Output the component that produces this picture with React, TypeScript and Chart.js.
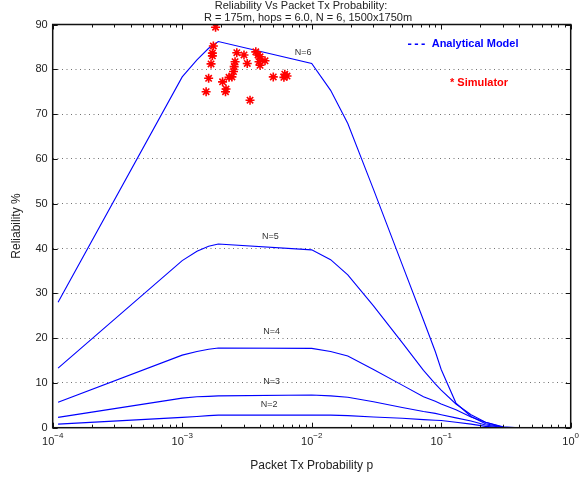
import React, { useEffect, useRef } from "react";
import { Chart, registerables } from "chart.js";
Chart.register(...registerables);

// Packet Tx probability grid (x) and analytical reliability (%) per N
const pGrid = [1.1e-4, 1e-3, 1.3e-3, 1.6e-3, 1.9e-3, 1e-2, 1.4e-2, 1.9e-2, 0.03, 0.05, 0.073, 0.09, 0.1, 0.13, 0.17, 0.22, 0.3, 0.4, 0.6, 1.0];
const relN6 = [28.0, 78.3, 82.1, 84.7, 86.2, 81.3, 75.3, 67.9, 53.2, 36.4, 24.0, 17.0, 13.0, 5.5, 2.5, 0.9, 0.1, 0, 0, 0];
const relN5 = [13.3, 37.3, 39.4, 40.5, 41.0, 39.7, 37.5, 34.1, 27.2, 19.0, 12.8, 9.8, 8.4, 5.3, 2.9, 1.2, 0.1, 0, 0, 0];
const relN4 = [5.7, 16.2, 17.0, 17.5, 17.8, 17.7, 17.0, 16.0, 13.0, 9.5, 6.9, 5.9, 5.3, 4.0, 2.4, 1.2, 0.2, 0, 0, 0];
const relN3 = [2.3, 6.6, 6.9, 7.0, 7.1, 7.3, 7.1, 6.8, 5.8, 4.5, 3.6, 3.2, 2.9, 2.2, 1.5, 0.6, 0.05, 0, 0, 0];
const relN2 = [0.8, 2.3, 2.5, 2.7, 2.8, 2.8, 2.8, 2.7, 2.4, 2.1, 1.8, 1.65, 1.6, 1.2, 0.8, 0.3, 0, 0, 0, 0];

// Simulator points
const simP = [1.81e-3, 1.74e-3, 1.71e-3, 1.71e-3, 1.67e-3, 1.6e-3, 1.53e-3, 2.05e-3, 2.18e-3, 2.16e-3, 2.3e-3, 2.42e-3, 2.49e-3, 2.52e-3, 2.56e-3, 2.64e-3, 3.0e-3, 3.18e-3, 3.34e-3, 3.7e-3, 3.85e-3, 3.99e-3, 3.92e-3, 3.99e-3, 4.36e-3, 5.05e-3, 6.2e-3, 6.45e-3, 6.1e-3];
const simRel = [89.4, 85.2, 83.6, 83.0, 81.2, 78.0, 75.0, 77.2, 75.6, 75.0, 78.2, 78.3, 79.5, 80.6, 81.7, 83.7, 83.2, 81.3, 73.1, 83.9, 83.2, 82.8, 81.7, 80.9, 81.9, 78.3, 78.9, 78.5, 78.2];

// Curve labels
const curveLabels = ["N=6", "N=5", "N=4", "N=3", "N=2"];
const labelP = [8.6e-3, 4.8e-3, 4.9e-3, 4.9e-3, 4.7e-3];
const labelRel = [83.7, 42.7, 21.5, 10.3, 5.1];

const xExponents = [-4, -3, -2, -1, 0];
const yTicks = [0, 10, 20, 30, 40, 50, 60, 70, 80, 90];

const FONT = "'Liberation Sans', Arial, Helvetica, sans-serif";
const BLUE = "#0000ff";
const RED = "#ff0000";

const toPts = (ys: number[]) => pGrid.map((p, i) => ({ x: p, y: ys[i] }));

const decor = {
  id: "decor",
  afterDraw(chart: any) {
    const { ctx, chartArea: a, scales } = chart;
    const xs = scales.x;
    const ys = scales.y;
    ctx.save();
    // frame
    ctx.strokeStyle = "#111";
    ctx.lineWidth = 1.5;
    ctx.strokeRect(a.left, a.top, a.right - a.left, a.bottom - a.top);
    ctx.lineWidth = 1;
    ctx.beginPath();
    // x ticks (major + minor), bottom and top, inward
    for (let e = -4; e <= 0; e++) {
      const px = Math.round(xs.getPixelForValue(Math.pow(10, e))) + 0.5;
      ctx.moveTo(px, a.bottom);
      ctx.lineTo(px, a.bottom - 5);
      ctx.moveTo(px, a.top);
      ctx.lineTo(px, a.top + 5);
      if (e < 0) {
        for (let m = 2; m <= 9; m++) {
          const q = Math.round(xs.getPixelForValue(m * Math.pow(10, e))) + 0.5;
          ctx.moveTo(q, a.bottom);
          ctx.lineTo(q, a.bottom - 3);
          ctx.moveTo(q, a.top);
          ctx.lineTo(q, a.top + 3);
        }
      }
    }
    // y ticks left and right
    for (const v of yTicks) {
      const py = Math.round(ys.getPixelForValue(v)) + 0.5;
      ctx.moveTo(a.left, py);
      ctx.lineTo(a.left + 5, py);
      ctx.moveTo(a.right, py);
      ctx.lineTo(a.right - 5, py);
    }
    ctx.stroke();

    // x tick labels 10^e
    ctx.fillStyle = "#222";
    ctx.textBaseline = "alphabetic";
    for (const e of xExponents) {
      const px = xs.getPixelForValue(Math.pow(10, e));
      ctx.font = `11px ${FONT}`;
      const wBase = ctx.measureText("10").width;
      const expStr = e < 0 ? "\u2212" + Math.abs(e) : String(e);
      ctx.font = `8px ${FONT}`;
      const wExp = ctx.measureText(expStr).width;
      const left = px - (wBase + wExp) / 2;
      ctx.font = `11px ${FONT}`;
      ctx.textAlign = "left";
      ctx.fillText("10", left, a.bottom + 17);
      ctx.font = `8px ${FONT}`;
      ctx.fillText(expStr, left + wBase, a.bottom + 10);
    }

    // axis titles
    ctx.font = `12px ${FONT}`;
    ctx.fillStyle = "#222";
    ctx.textAlign = "center";
    ctx.textBaseline = "middle";
    ctx.fillText("Packet Tx Probability p", (a.left + a.right) / 2, 466);
    ctx.save();
    ctx.translate(17, 226);
    ctx.rotate(-Math.PI / 2);
    ctx.fillText("Reliability %", 0, 0);
    ctx.restore();

    // title
    ctx.font = `11px ${FONT}`;
    ctx.fillText("Reliability Vs Packet Tx Probability:", 301, 6);
    ctx.fillText("R = 175m, hops = 6.0, N = 6, 1500x1750m", 308, 17.5);

    // curve labels
    ctx.font = `9px ${FONT}`;
    ctx.fillStyle = "#333";
    curveLabels.forEach((t, i) => {
      ctx.fillText(t, xs.getPixelForValue(labelP[i]), ys.getPixelForValue(labelRel[i]));
    });

    // legend text
    ctx.font = `bold 13px ${FONT}`;
    ctx.textAlign = "left";
    ctx.fillStyle = BLUE;
    ctx.fillText("-", 407.5, 44);
    ctx.fillText("-", 414.3, 44);
    ctx.fillText("-", 421.1, 44);
    ctx.font = `bold 11px ${FONT}`;
    ctx.fillText("Analytical Model", 431.7, 44);
    ctx.fillStyle = RED;
    ctx.fillText("* Simulator", 450, 83);
    ctx.restore();
  },
};

export default function App() {
  const ref = useRef<HTMLCanvasElement>(null);
  useEffect(() => {
    if (!ref.current) return;
    const lineDs = (label: string, ys: number[]) => ({
      label,
      data: toPts(ys),
      showLine: true,
      borderColor: BLUE,
      backgroundColor: BLUE,
      borderWidth: 1.1,
      pointRadius: 0,
      tension: 0,
    });
    const chart = new Chart(ref.current, {
      type: "scatter",
      data: {
        datasets: [
          {
            label: "Simulator",
            data: simP.map((p, i) => ({ x: p, y: simRel[i] })),
            showLine: false,
            pointStyle: "star",
            pointRadius: 4.5,
            borderColor: RED,
            backgroundColor: RED,
            borderWidth: 1.6,
          } as any,
          lineDs("N=6", relN6),
          lineDs("N=5", relN5),
          lineDs("N=4", relN4),
          lineDs("N=3", relN3),
          lineDs("N=2", relN2),
        ],
      },
      options: {
        animation: false,
        responsive: false,
        layout: { padding: { top: 24.5, right: 13.3, left: 0, bottom: 0 } },
        plugins: { legend: { display: false }, tooltip: { enabled: false }, title: { display: false } },
        scales: {
          x: {
            type: "logarithmic",
            min: 1e-4,
            max: 1,
            ticks: { display: false },
            grid: { display: false },
            border: { display: false },
            afterFit: (s: any) => {
              s.height = 52.3;
            },
          },
          y: {
            type: "linear",
            min: 0,
            max: 90,
            ticks: {
              stepSize: 10,
              color: "#222",
              font: { family: FONT, size: 11 },
              padding: 5,
            },
            grid: {
              drawTicks: false,
              color: (c: any) =>
                c.tick && (c.tick.value === 0 || c.tick.value === 90) ? "rgba(0,0,0,0)" : "rgba(80,80,80,0.8)",
              lineWidth: 1,
            },
            border: { display: false, dash: [1, 3.5] },
            afterFit: (s: any) => {
              s.width = 52.7;
            },
          },
        },
      },
      plugins: [decor],
    } as any);
    return () => chart.destroy();
  }, []);
  return (
    <div style={{ position: "fixed", left: 0, top: 0, width: 584, height: 480, background: "#fff" }}>
      <canvas ref={ref} width={584} height={480} style={{ display: "block" }} />
    </div>
  );
}
